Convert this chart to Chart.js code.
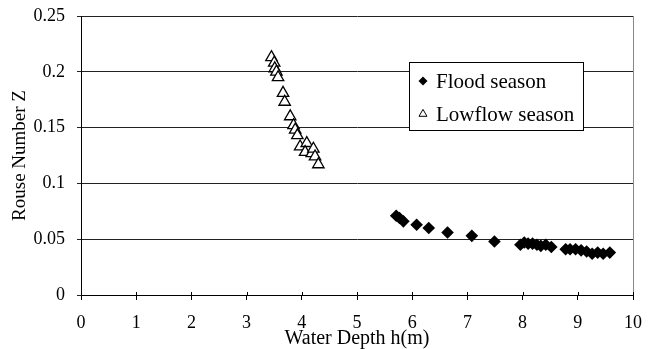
<!DOCTYPE html>
<html><head><meta charset="utf-8">
<script src="https://cdn.jsdelivr.net/npm/chart.js@4/dist/chart.umd.min.js"></script>
<style>html,body{margin:0;padding:0;background:#fff}#wrap{width:655px;height:349px}</style>
</head><body><div id="wrap"><canvas id="c" width="655" height="349"></canvas></div>
<script>
const floodDepth = [5.71,5.77,5.84,6.08,6.3,6.64,7.08,7.49,7.96,8.03,8.1,8.18,8.26,8.33,8.42,8.52,8.78,8.86,8.96,9.06,9.16,9.26,9.36,9.46,9.58];
const floodZ     = [0.071,0.069,0.066,0.063,0.060,0.056,0.053,0.048,0.045,0.047,0.046,0.046,0.045,0.044,0.045,0.043,0.041,0.041,0.041,0.040,0.039,0.037,0.038,0.037,0.038];
const lowDepth = [3.45,3.5,3.51,3.54,3.57,3.66,3.69,3.79,3.85,3.88,3.92,3.97,4.09,4.06,4.18,4.21,4.24,4.3];
const lowZ     = [0.213,0.208,0.203,0.2,0.195,0.181,0.173,0.16,0.152,0.148,0.143,0.133,0.136,0.128,0.127,0.131,0.124,0.117];
const xTicks = [0,1,2,3,4,5,6,7,8,9,10];
const yTicks = [0,0.05,0.1,0.15,0.2,0.25];
const seriesNames = ['Flood season','Lowflow season'];

const FONT = 'Liberation Serif';
const toPts = (xs, ys) => xs.map((x,i)=>({x, y: ys[i]}));

const legendPlugin = {
  id: 'boxLegend',
  afterDraw(chart){
    const ctx = chart.ctx;
    const x0 = 409, y0 = 62, w = 174, h = 68;
    ctx.save();
    ctx.fillStyle = '#fff';
    ctx.fillRect(x0, y0, w, h);
    ctx.strokeStyle = '#000'; ctx.lineWidth = 1;
    ctx.strokeRect(x0+0.5, y0+0.5, w, h);
    ctx.font = '21px "' + FONT + '"';
    ctx.textBaseline = 'middle';
    chart.data.datasets.forEach((ds, i) => {
      const cy = y0 + 19 + i*33;
      ctx.fillStyle = ds.pointBackgroundColor;
      ctx.strokeStyle = ds.pointBorderColor;
      Chart.helpers.drawPoint(ctx, {pointStyle: ds.pointStyle, radius: i===0?4.5:4.6, rotation: 0, borderWidth: i===0?0:1.3}, x0 + 14, cy);
      ctx.fillStyle = '#000';
      ctx.fillText(ds.label, x0 + 27, cy + 1);
    });
    ctx.restore();
  }
};

const framePlugin = {
  id: 'frame',
  beforeDatasetsDraw(chart){
    const {ctx, chartArea: a, scales} = chart;
    ctx.save(); ctx.strokeStyle = '#888'; ctx.lineWidth = 1;
    ctx.beginPath(); ctx.moveTo(Math.round(a.right)+0.5, a.top); ctx.lineTo(Math.round(a.right)+0.5, a.bottom); ctx.stroke();
    ctx.strokeStyle = '#000';
    ctx.beginPath();
    xTicks.forEach(v => {
      const px = Math.round(scales.x.getPixelForValue(v)) + 0.5;
      ctx.moveTo(px, a.bottom - 3); ctx.lineTo(px, a.bottom);
    });
    ctx.stroke();
    ctx.restore();
  }
};

new Chart(document.getElementById('c'), {
  type: 'scatter',
  data: {
    datasets: [
      { label: seriesNames[0], data: toPts(floodDepth, floodZ), pointStyle: 'rectRot', pointRadius: 6.3,
        pointBackgroundColor: '#000', pointBorderColor: '#000', pointBorderWidth: 0 },
      { label: seriesNames[1], data: toPts(lowDepth, lowZ), pointStyle: 'triangle', pointRadius: 6.6,
        pointBackgroundColor: '#fff', pointBorderColor: '#000', pointBorderWidth: 1.3 }
    ]
  },
  options: {
    responsive: false, animation: false,
    layout: { padding: { left: 0, right: 22, top: 16, bottom: 0 } },
    plugins: { legend: { display: false }, tooltip: { enabled: false } },
    scales: {
      x: {
        type: 'linear', min: 0, max: 10,
        afterFit(s){ s.height = 54; s.paddingLeft = 0; s.paddingRight = 0; },
        afterBuildTicks(s){ s.ticks = xTicks.map(v=>({value:v})); },
        border: { display: true, color: '#000', width: 1 },
        grid: { drawOnChartArea: false, drawTicks: true, tickLength: 5, color: '#000' },
        ticks: { color: '#000', font: { family: FONT, size: 18 }, padding: 12, maxRotation: 0 },
        title: { display: true, text: 'Water Depth h(m)', color: '#000', font: { family: FONT, size: 20, lineHeight: 1 }, padding: { top: 0, bottom: 0 } }
      },
      y: {
        type: 'linear', min: 0, max: 0.25,
        afterFit(s){ s.width = 81; s.paddingTop = 0; s.paddingBottom = 0; },
        afterBuildTicks(s){ s.ticks = yTicks.map(v=>({value:v})); },
        border: { display: true, color: '#000', width: 1 },
        grid: { drawOnChartArea: true, drawTicks: true, tickLength: 4, color: '#222', lineWidth: 1 },
        ticks: { color: '#000', font: { family: FONT, size: 18 }, padding: 12, callback: v => String(v) },
        title: { display: true, text: 'Rouse Number Z', color: '#000', font: { family: FONT, size: 19 }, padding: { top: 9, bottom: 0 } }
      }
    }
  },
  plugins: [legendPlugin, framePlugin]
});
</script></body></html>
